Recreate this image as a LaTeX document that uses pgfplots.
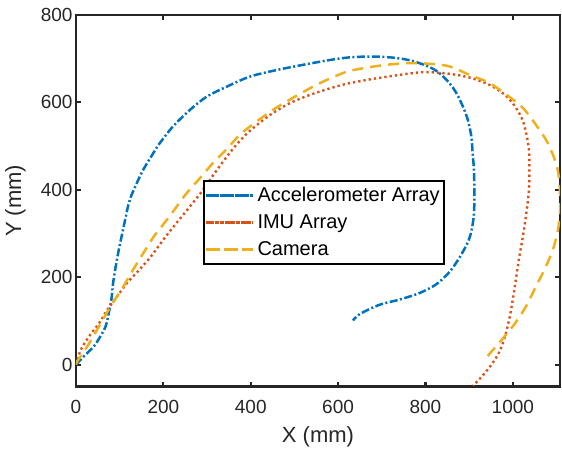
\documentclass[border=0pt]{standalone}
\usepackage{fontspec}
\setmainfont{Liberation Sans}
\usepackage{pgfplots}
\pgfplotsset{compat=1.18}
\definecolor{mblue}{HTML}{0072BD}
\definecolor{morange}{HTML}{D95319}
\definecolor{myellow}{HTML}{EDB120}
\definecolor{axgray}{HTML}{262626}
\begin{document}
\begin{tikzpicture}
\useasboundingbox (-76pt,-65.5pt) rectangle (486pt,386.5pt);
\begin{axis}[
    scale only axis,
    width=484pt, height=371.5pt,
    xmin=0, xmax=1108, ymin=-50, ymax=800,
    xtick={0,200,...,1000}, ytick={0,200,...,800},
    /pgf/number format/assume math mode=true,
    /pgf/number format/1000 sep={},
    axis line style={axgray, line width=2.1pt},
    tick style={axgray, line width=2.1pt},
    major tick length=5pt,
    tick label style={font=\fontsize{19}{19}\selectfont, text=axgray},
    xticklabel style={yshift=-10pt},
    xlabel={X (mm)}, ylabel={Y (mm)},
    label style={font=\fontsize{22}{22}\selectfont, text=axgray},
    xlabel style={at={(axis description cs:0.5,-0.136)}, anchor=center},
    ylabel style={at={(axis description cs:-0.125,0.5)}, anchor=center},
    legend style={at={(axis description cs:0.2624,0.5559)}, anchor=north west,
        draw=black, line width=2pt, font=\fontsize{20}{20}\selectfont,
        inner sep=1pt,
        nodes={inner sep=3pt, text height=16.5pt, text depth=4.5pt}},
    legend cell align=left,
    legend image code/.code={\path (0pt,0pt) -- (47pt,0pt);
        \draw[#1, line width=2.5pt] (3pt,0pt) -- (47pt,0pt);},
]
% accelerometer array
\addplot[mblue, line width=2.5pt, smooth, dash pattern=on 8pt off 2.5pt on 2pt off 2.5pt] coordinates {
(0,0) (18,19) (41,42) (56,65) (68,88) (75,118) (81,149) (85,187) (91,225)
(98,263) (106,301) (114,339) (119,362) (126,385) (139,415) (154,446) (177,484)
(192,507) (222,545) (261,583) (299,613) (345,636) (398,659) (459,674) (520,686)
(581,697) (626,703) (679,705) (730,702) (770,695) (809,681) (832,667) (855,644)
(871,621) (886,590) (897,560) (905,522) (908,484) (911,446) (912,400) (912,370)
(910,335) (905,305) (897,280) (878,245) (855,212) (825,184) (787,164) (741,149)
(695,137) (650,116) (634,101)
};
\addlegendentry{Accelerometer Array}
% IMU array
\addplot[morange, line width=2.4pt, smooth, dash pattern=on 2.3pt off 3pt] coordinates {
(0,0) (11,34) (30,65) (53,95) (72,126) (94,156) (117,187) (145,217) (172,248)
(200,286) (230,324) (261,362) (291,400) (306,422) (337,465) (367,503) (398,535)
(444,571) (489,598) (535,617) (581,632) (626,644) (700,657) (790,669) (840,667)
(871,663) (908,655) (947,640) (977,621) (1000,598) (1019,567) (1029,537)
(1037,491) (1038,446) (1037,400) (1031,347) (1023,293) (1015,248) (1008,202)
(1000,149) (991,100) (980,58) (968,27) (951,0) (931,-25) (909,-48)
};
\addlegendentry{IMU Array}
% camera
\addplot[myellow, line width=2.5pt, smooth, dash pattern=on 11pt off 7pt] coordinates {
(0,0) (3,8) (26,42) (53,88) (79,133) (106,175) (133,221) (159,263) (178,293)
(196,316) (222,350) (253,392) (284,427) (315,463) (345,493) (375,526) (413,556)
(451,583) (489,606) (535,632) (573,651) (619,670) (657,678) (710,686) (771,690)
(848,684) (901,663) (947,644) (992,613) (1027,583) (1061,537) (1080,507)
(1099,461) (1106,425) (1108,390) (1108,350) (1104,312) (1093,267) (1076,225)
(1053,179) (1030,133) (1004,93) (973,55) (947,25) (935,10)
};
\addlegendentry{Camera}
\end{axis}
\end{tikzpicture}
\end{document}
